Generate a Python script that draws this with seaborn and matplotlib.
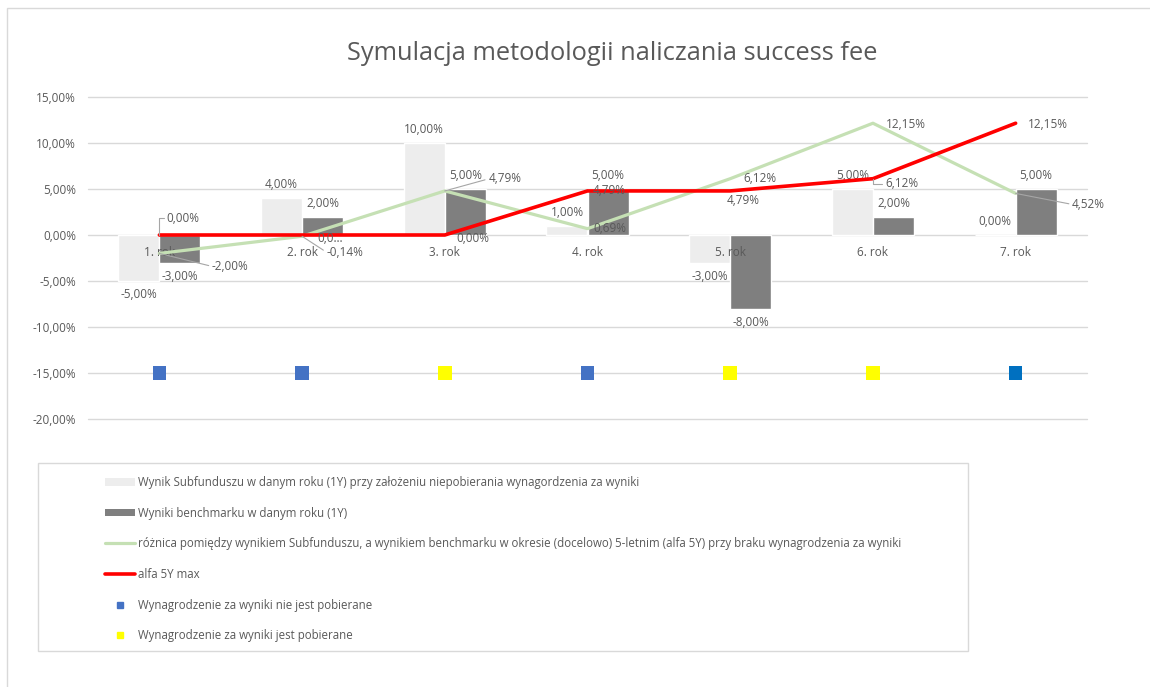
import numpy as np
import pandas as pd
import seaborn as sns
import matplotlib.pyplot as plt
from matplotlib.patches import Patch, Rectangle
from matplotlib.lines import Line2D

# ---------------- data ----------------
categories = ["1. rok", "2. rok", "3. rok", "4. rok", "5. rok", "6. rok", "7. rok"]
subfund = [-5.00, 4.00, 10.00, 1.00, -3.00, 5.00, 0.00]
benchmark = [-3.00, 2.00, 5.00, 5.00, -8.00, 2.00, 5.00]
alfa_5y = [-2.00, -0.14, 4.79, 0.69, 6.12, 12.15, 4.52]
alfa_5y_max = [0.00, 0.00, 0.00, 4.79, 4.79, 6.12, 12.15]
fee_marker_level = [-15, -15, -15, -15, -15, -15, -15]
fee_charged = [False, False, True, False, True, True, False]
y_ticks = [15, 10, 5, 0, -5, -10, -15, -20]

title = "Symulacja metodologii naliczania success fee"
legend_labels = [
    "Wynik Subfunduszu w danym roku (1Y) przy założeniu niepobierania wynagordzenia za wyniki",
    "Wyniki benchmarku w danym roku (1Y)",
    "różnica pomiędzy wynikiem Subfunduszu, a wynikiem benchmarku w okresie (docelowo) 5-letnim (alfa 5Y) przy braku wynagrodzenia za wyniki",
    "alfa 5Y max",
    "Wynagrodzenie za wyniki nie jest pobierane",
    "Wynagrodzenie za wyniki jest pobierane",
]


def pct(v):
    return f"{v:.2f}".replace(".", ",") + "%"


# ---------------- style ----------------
C_SUB = "#EDEDED"
C_BENCH = "#7F7F7F"
C_GREEN = "#C5E0B4"
C_RED = "#FF0000"
C_BLUE = "#4472C4"
C_BLUE_LAST = "#0070C0"
C_YELLOW = "#FFFF00"
C_TEXT = "#595959"
C_GRID = "#D9D9D9"
C_LEADER = "#A6A6A6"

sns.set_theme(style="white")
plt.rcParams["font.family"] = ["Open Sans", "DejaVu Sans"]

W, H = 1150, 687
fig = plt.figure(figsize=(W / 100, H / 100), dpi=100)
ax = fig.add_axes([88 / W, 1 - 419 / H, (1087 - 88) / W, (419 - 97) / H])

df = pd.DataFrame({
    "cat": categories * 2,
    "val": subfund + benchmark,
    "series": ["sub"] * len(categories) + ["bench"] * len(categories),
})
sns.barplot(data=df, x="cat", y="val", hue="series", palette=[C_SUB, C_BENCH],
            width=0.575, gap=0, saturation=1, legend=False, ax=ax, zorder=2)

xpos = np.arange(len(categories))
sns.lineplot(x=xpos, y=alfa_5y, color=C_GREEN, linewidth=2.3, sort=False, ax=ax, zorder=3)
sns.lineplot(x=xpos, y=alfa_5y_max, color=C_RED, linewidth=2.6, sort=False, ax=ax, zorder=4)

marker_colors = [C_YELLOW if f else C_BLUE for f in fee_charged]
marker_colors[-1] = C_BLUE_LAST
sns.scatterplot(x=xpos, y=fee_marker_level, hue=[str(i) for i in xpos],
                palette=marker_colors, marker="s", s=95, linewidth=0,
                legend=False, ax=ax, zorder=5)

ax.set_xlim(-0.5, len(categories) - 0.5)
ax.set_ylim(-20, 15)
ax.set_yticks(y_ticks)
ax.set_yticklabels([pct(v) for v in y_ticks], color=C_TEXT, fontsize=8.5)
ax.tick_params(axis="y", length=0, pad=8.5)
ax.set_xticks([])
ax.set_xlabel("")
ax.set_ylabel("")
ax.grid(axis="y", color=C_GRID, linewidth=1, clip_on=False)
ax.set_axisbelow(True)
for s in ax.spines.values():
    s.set_visible(False)

# bar data labels
for cont, vals in zip(ax.containers, [subfund, benchmark]):
    ax.bar_label(cont, labels=[pct(v) for v in vals], padding=5,
                 color=C_TEXT, fontsize=8.5)

# category labels next to zero axis
for i, c in enumerate(categories):
    ax.annotate(c, (i, 0), xytext=(0, -17), textcoords="offset pixels",
                ha="center", va="center", color=C_TEXT, fontsize=8.5, zorder=2.5)

# line data labels: (dx px, dy px, leader style)
green_offsets = [(71, -13, "line"), (43, -16, "line"), (60, 12, "line"), (22, 0, None),
                 (30, 0, None), (33, -1, None), (73, -11, "line")]
red_offsets = [(24, 17, "elbow"), (28, -3, None), (28, -3, None), (22, 0, None),
               (13, -10, None), (29, -5, "elbow"), (32, -1, None)]
red_texts = [pct(v) for v in alfa_5y_max]
red_texts[1] = "0,0…"


def leader(kind):
    if kind == "line":
        return dict(arrowstyle="-", color=C_LEADER, lw=0.8, shrinkA=0, shrinkB=0,
                    relpos=(0.0, 0.5))
    if kind == "elbow":
        return dict(arrowstyle="-", color=C_LEADER, lw=0.8, shrinkA=0, shrinkB=0,
                    relpos=(0.0, 0.5), connectionstyle="angle,angleA=0,angleB=90,rad=0")
    return None


for i, v in enumerate(alfa_5y):
    dx, dy, kind = green_offsets[i]
    ax.annotate(pct(v), (i, v), xytext=(dx, dy), textcoords="offset pixels",
                ha="center", va="center", color=C_TEXT, fontsize=8.5, zorder=6,
                arrowprops=leader(kind))
for i, v in enumerate(alfa_5y_max):
    dx, dy, kind = red_offsets[i]
    ax.annotate(red_texts[i], (i, v), xytext=(dx, dy), textcoords="offset pixels",
                ha="center", va="center", color=C_TEXT, fontsize=8.5, zorder=6,
                arrowprops=leader(kind))

# title
fig.text(612 / W, 1 - 53 / H, title, ha="center", va="center",
         fontsize=18.3, color=C_TEXT)

# outer chart border
fig.add_artist(Rectangle((7 / W, -0.1), 1.1, 1.1 - 8 / H, transform=fig.transFigure,
                         fill=False, edgecolor=C_GRID, linewidth=1))

# legend box
fig.add_artist(Rectangle((38 / W, 1 - 651 / H), (968 - 38) / W, (651 - 463) / H,
                         transform=fig.transFigure, fill=False,
                         edgecolor=C_GRID, linewidth=1))
handles = [
    Patch(facecolor=C_SUB, edgecolor="none"),
    Patch(facecolor=C_BENCH, edgecolor="none"),
    Line2D([], [], color=C_GREEN, linewidth=2.3),
    Line2D([], [], color=C_RED, linewidth=2.6),
    Line2D([], [], color=C_BLUE, marker="s", linestyle="none", markersize=4.5),
    Line2D([], [], color=C_YELLOW, marker="s", linestyle="none", markersize=4.5),
]
fig.legend(handles, legend_labels, loc="upper left",
           bbox_to_anchor=(105 / W, 1 - 476 / H), frameon=False, fontsize=8.3,
           labelcolor=C_TEXT, labelspacing=1.53, handlelength=2.6,
           handleheight=0.6, handletextpad=0.26, borderpad=0, borderaxespad=0)

fig.savefig("out.png", dpi=100)
